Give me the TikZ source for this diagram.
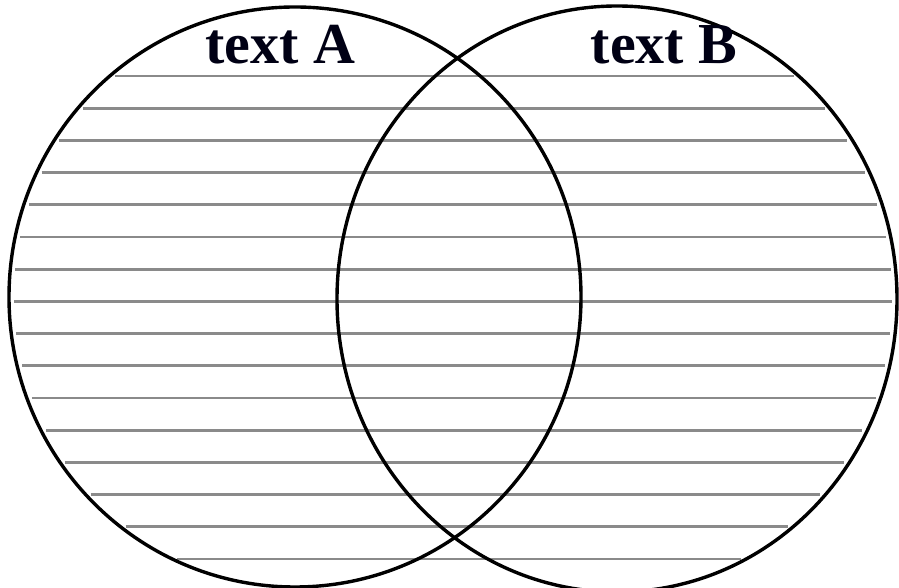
\documentclass[tikz,border=0pt]{standalone}
\usepackage{fontspec}
\setmainfont{Liberation Serif}
\begin{document}
\begin{tikzpicture}[x=1pt,y=1pt,
  hatch/.style={draw=black!46, line width=2.8pt},
  setedge/.style={draw=black, line width=3.4pt},
  settitle/.style={font=\fontsize{58}{60}\selectfont\bfseries, anchor=base, inner sep=0pt, text=black!92!blue}]
\useasboundingbox (0,0) rectangle (899,588);
\fill[white] (0,0) rectangle (899,588);
\foreach \k in {0,...,15}{
  \pgfmathsetmacro{\yy}{512-32.2*\k}
  \pgfmathsetmacro{\fl}{sqrt(1-((\yy-291)/290)^2)}
  \pgfmathsetmacro{\fr}{sqrt(1-((\yy-289)/293)^2)}
  \pgfmathsetmacro{\xl}{295-286*\fl+5}
  \pgfmathsetmacro{\xr}{617+280*\fr-5}
  \draw[hatch] (\xl,\yy) -- (\xr,\yy);
}
\draw[setedge] (295,291) ellipse [x radius=286pt, y radius=290pt];
\draw[setedge] (617,289) ellipse [x radius=280pt, y radius=293pt];
\node[settitle] (ta) at (280,524) {text A};
\node[settitle] (tb) at (664,524) {text B};
\end{tikzpicture}
\end{document}
